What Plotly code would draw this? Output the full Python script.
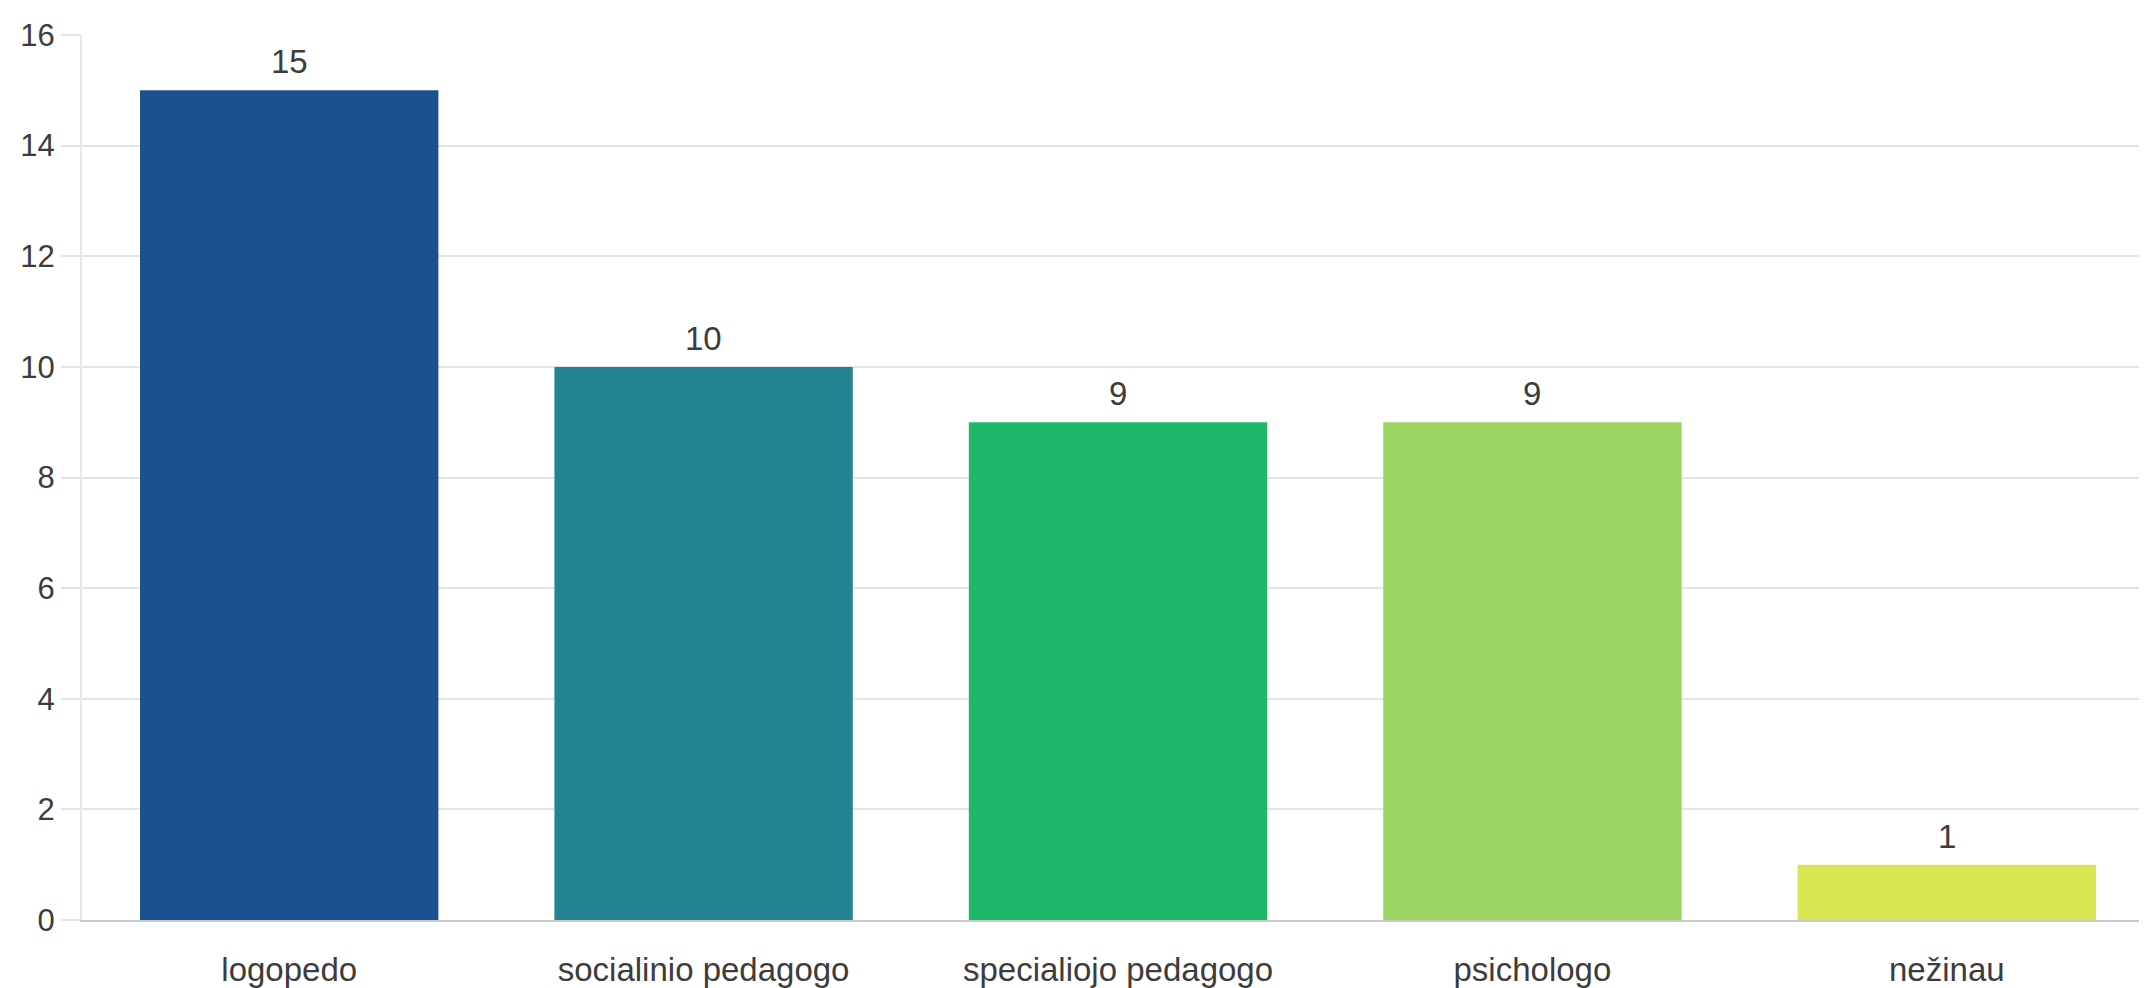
import plotly.graph_objects as go

categories = ["logopedo", "socialinio pedagogo", "specialiojo pedagogo", "psichologo", "nežinau"]
values = [15, 10, 9, 9, 1]
colors = ["#1b518f", "#238391", "#1db86a", "#9cd662", "#d8e652"]
y_ticks = [0, 2, 4, 6, 8, 10, 12, 14, 16]

font_family = "Liberation Sans, Arial, sans-serif"
text_color = "#3c3c3c"

fig = go.Figure()
fig.add_trace(go.Bar(
    x=list(range(len(categories))),
    y=values,
    marker=dict(color=colors, line=dict(width=0)),
    width=0.72,
    hoverinfo="skip",
))

for i, v in enumerate(values):
    fig.add_annotation(
        x=i, y=v, text=str(v), showarrow=False, yanchor="bottom",
        yshift=8, font=dict(family=font_family, size=33, color=text_color),
    )

fig.update_layout(
    width=2147, height=988,
    margin=dict(l=74, r=1, t=27, b=76),
    paper_bgcolor="white", plot_bgcolor="white",
    showlegend=False,
    font=dict(family=font_family, color=text_color),
    xaxis=dict(
        range=[-0.5, 4.5],
        tickmode="array",
        tickvals=list(range(len(categories))),
        ticktext=categories,
        tickfont=dict(size=33, color=text_color),
        showgrid=False,
        showline=True, linecolor="#c9c9c9", linewidth=2,
        ticks="", ticklabelstandoff=19,
        zeroline=False,
    ),
    yaxis=dict(
        range=[0, 16],
        tickmode="array",
        tickvals=y_ticks,
        tickfont=dict(size=31, color=text_color),
        showgrid=True, gridcolor="#e4e4e4", gridwidth=2,
        showline=True, linecolor="#e8e8e8", linewidth=2,
        ticks="outside", ticklen=19, tickcolor="#e4e4e4", tickwidth=2,
        zeroline=False,
    ),
)

fig.write_html("out.html")
